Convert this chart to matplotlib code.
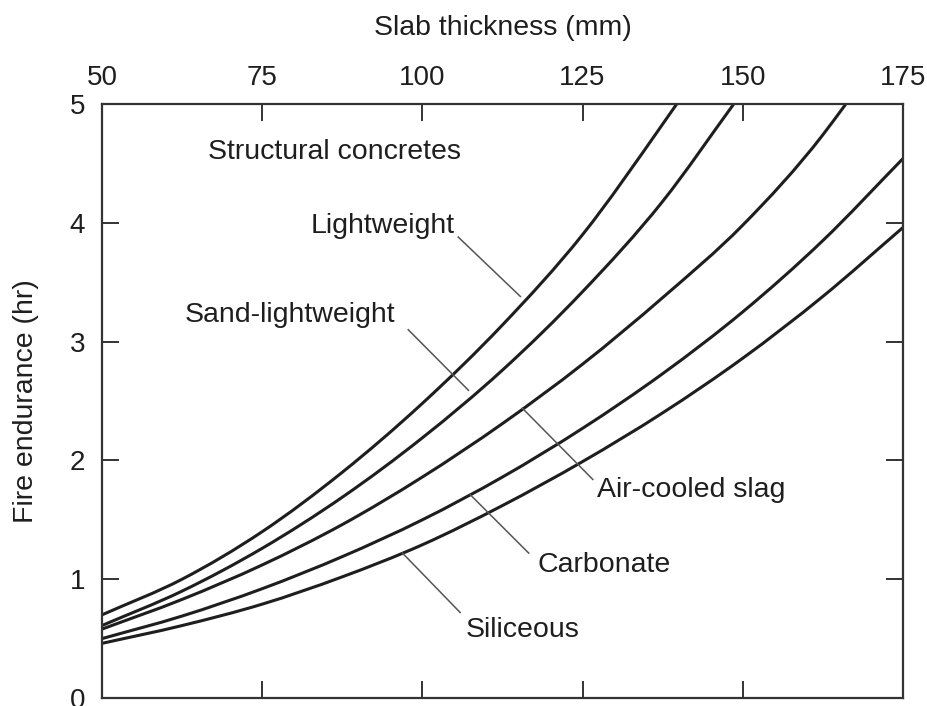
import numpy as np
import matplotlib
matplotlib.use("Agg")
import matplotlib.pyplot as plt
from matplotlib.path import Path
from matplotlib.patches import PathPatch

plt.rcParams['font.family'] = ['Liberation Sans', 'DejaVu Sans']

# slab thickness (mm) at which the curves were read
thickness = [50, 62.5, 75, 87.5, 100, 112.5, 125, 137.5, 150, 162.5, 175]

# fire endurance (hr) for each concrete type
lightweight_x = thickness[:8] + [139.7]
lightweight = [0.70, 1.00, 1.40, 1.90, 2.48, 3.14, 3.90, 4.83, 5.0]

sand_lw_x = thickness[:8] + [148.6]
sand_lw = [0.61, 0.90, 1.26, 1.69, 2.19, 2.76, 3.42, 4.18, 5.0]

slag_x = thickness[:10] + [166.1]
slag = [0.58, 0.83, 1.12, 1.46, 1.86, 2.31, 2.81, 3.37, 3.98, 4.74, 5.0]

carbonate_x = thickness
carbonate = [0.50, 0.69, 0.92, 1.19, 1.50, 1.86, 2.27, 2.73, 3.25, 3.85, 4.54]

siliceous_x = thickness
siliceous = [0.46, 0.61, 0.79, 1.02, 1.29, 1.62, 1.99, 2.40, 2.86, 3.38, 3.96]

# labels: (text, text position, leader start, leader end, alignment)
labels = [
    ("Lightweight", (105.0, 3.97), (105.6, 3.88), (115.3, 3.38), 'right'),
    ("Sand-lightweight", (95.8, 3.22), (97.8, 3.10), (107.2, 2.59), 'right'),
    ("Air-cooled slag", (127.3, 1.75), (126.6, 1.84), (115.6, 2.44), 'left'),
    ("Carbonate", (118.0, 1.12), (116.6, 1.22), (107.5, 1.71), 'left'),
    ("Siliceous", (106.7, 0.57), (105.9, 0.72), (96.9, 1.22), 'left'),
]

ink = '#1e1e1e'


def smooth_path(xs, ys):
    """Cubic Bezier path through the points, slopes from neighbouring points."""
    x = np.asarray(xs, float)
    y = np.asarray(ys, float)
    h = np.diff(x)
    d = np.diff(y) / h
    m = np.empty_like(y)
    m[0], m[-1] = d[0], d[-1]
    # weighted average of the neighbouring secants
    m[1:-1] = (d[:-1] * h[1:] + d[1:] * h[:-1]) / (h[:-1] + h[1:])
    verts = [(x[0], y[0])]
    codes = [Path.MOVETO]
    for i in range(len(x) - 1):
        k = h[i] / 3.0
        verts += [(x[i] + k, y[i] + k * m[i]),
                  (x[i + 1] - k, y[i + 1] - k * m[i + 1]),
                  (x[i + 1], y[i + 1])]
        codes += [Path.CURVE4] * 3
    return Path(verts, codes)


fig = plt.figure(figsize=(9.27, 7.06), dpi=100)
ax = fig.add_axes([0.110, 0.0113, 0.864, 0.8414])

for xs, ys in [(lightweight_x, lightweight), (sand_lw_x, sand_lw),
               (slag_x, slag), (carbonate_x, carbonate),
               (siliceous_x, siliceous)]:
    ax.add_patch(PathPatch(smooth_path(xs, ys), fill=False, edgecolor=ink,
                           lw=2.2, capstyle='butt'))

for text, tpos, p0, p1, ha in labels:
    ax.plot([p0[0], p1[0]], [p0[1], p1[1]], color='#555555', lw=1.1)
    ax.text(tpos[0], tpos[1], text, ha=ha, va='center', fontsize=20.5,
            color=ink)

ax.text(66.6, 4.60, "Structural concretes", ha='left', va='center',
        fontsize=20.5, color=ink)

ax.set_xlim(50, 175)
ax.set_ylim(0, 5)
ax.set_xticks([50, 75, 100, 125, 150, 175])
ax.set_yticks([0, 1, 2, 3, 4, 5])

ax.xaxis.set_label_position('top')
ax.set_xlabel("Slab thickness (mm)", fontsize=20.5, labelpad=22, color=ink)
ax.set_ylabel("Fire endurance (hr)", fontsize=20.5, labelpad=22, color=ink)

ax.tick_params(axis='both', direction='in', length=12, width=1.4,
               color='#333333', labelsize=20, labelcolor=ink,
               top=True, bottom=True, left=True, right=True,
               labeltop=True, labelbottom=False, labelleft=True,
               labelright=False)
ax.tick_params(axis='x', pad=9)
ax.tick_params(axis='y', pad=12)

for s in ax.spines.values():
    s.set_linewidth(1.6)
    s.set_color('#333333')

fig.savefig("out.png", dpi=100)
